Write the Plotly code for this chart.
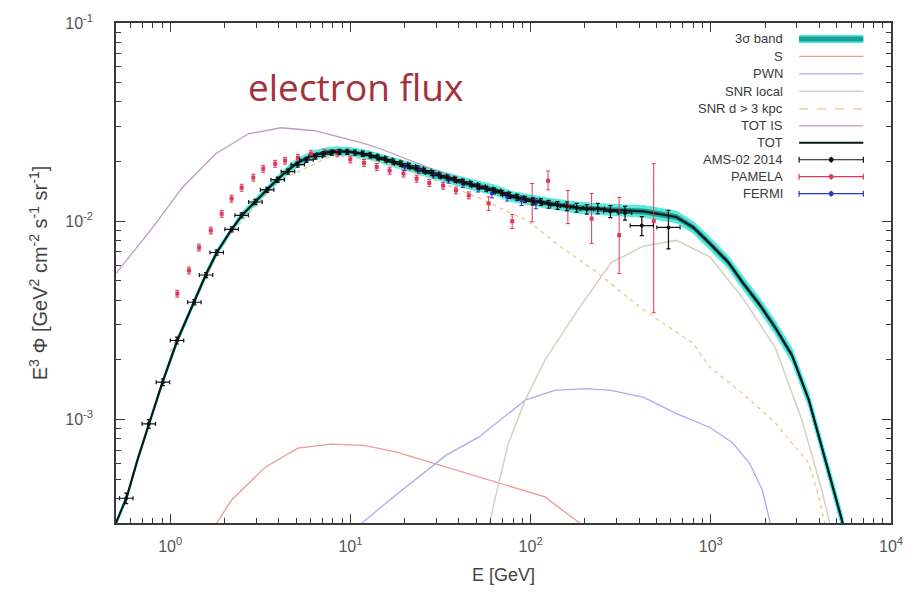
import plotly.graph_objects as go
import math

# ---------------- data ----------------
# TOT model curve and 3-sigma band
tot_E = [0.5, 0.574, 0.66, 0.759, 0.906, 1.094, 1.355, 1.578, 1.814, 2.19, 2.49, 2.97, 3.6, 4.3, 5.1,
         6.2, 7.5, 8.5, 10, 12.5, 18, 25, 34, 42, 64, 79, 120, 182, 280, 425, 644, 800, 990, 1250,
         1503, 1862, 2280, 2825, 3500, 4130, 4864, 5450]
tot_V = [3.0e-4, 4.06e-4, 6.3e-4, 9.46e-4, 1.54e-3, 2.5e-3, 3.89e-3, 5.38e-3, 6.95e-3, 9.08e-3,
         1.067e-2, 1.26e-2, 1.5e-2, 1.75e-2, 1.98e-2, 2.15e-2, 2.24e-2, 2.26e-2, 2.24e-2, 2.16e-2,
         1.96e-2, 1.8e-2, 1.66e-2, 1.57e-2, 1.43e-2, 1.33e-2, 1.24e-2, 1.17e-2, 1.14e-2, 1.12e-2,
         1.05e-2, 9.3e-3, 7.7e-3, 6.2e-3, 4.9e-3, 3.8e-3, 2.9e-3, 2.1e-3, 1.25e-3, 7.3e-4, 4.2e-4, 2.9e-4]
band_rel = [0.025, 0.025, 0.025, 0.025, 0.03, 0.03, 0.03, 0.035, 0.035, 0.035, 0.04, 0.04, 0.045, 0.045, 0.05,
            0.05, 0.05, 0.05, 0.05, 0.05, 0.055, 0.055, 0.055, 0.06, 0.06, 0.06, 0.06, 0.065, 0.065, 0.07,
            0.07, 0.07, 0.075, 0.075, 0.08, 0.08, 0.08, 0.085, 0.085, 0.09, 0.09, 0.09]

# TOT IS (interstellar, unmodulated)
totis_E = [0.5, 0.8, 1.166, 1.79, 2.72, 4.12, 6.33, 9.6, 11.9, 15, 20, 30, 45, 60]
totis_V = [5.45e-3, 9.3e-3, 1.476e-2, 2.19e-2, 2.76e-2, 2.96e-2, 2.86e-2, 2.61e-2, 2.47e-2,
           2.3e-2, 2.08e-2, 1.8e-2, 1.58e-2, 1.45e-2]

# secondaries
sec_E = [1.81, 2.19, 3.37, 5.11, 7.75, 11.9, 18.07, 27.4, 42.1, 63.8, 120, 187]
sec_V = [3.0e-4, 3.92e-4, 5.74e-4, 7.16e-4, 7.5e-4, 7.4e-4, 6.84e-4, 6.1e-4, 5.42e-4, 4.83e-4,
         4.06e-4, 3.0e-4]

# PWN
pwn_E = [11.6, 16.5, 34, 51.5, 93.3, 136, 200, 280, 425, 644, 990, 1324, 1641, 1932, 2138]
pwn_V = [3.0e-4, 3.92e-4, 6.6e-4, 8.13e-4, 1.25e-3, 1.40e-3, 1.43e-3, 1.40e-3, 1.29e-3, 1.07e-3,
         9.1e-4, 7.6e-4, 6.0e-4, 4.4e-4, 3.0e-4]

# SNR local
snrl_E = [59.3, 63.8, 75, 93.3, 120, 182, 280, 425, 644, 990, 1503, 2280, 3207, 4130, 4570]
snrl_V = [3.0e-4, 4.06e-4, 7.5e-4, 1.25e-3, 1.99e-3, 3.55e-3, 6.19e-3, 7.5e-3, 8.0e-3, 6.6e-3,
          4.1e-3, 2.3e-3, 9.9e-4, 4.4e-4, 3.0e-4]

# SNR d > 3 kpc
snrf_E = [1.0, 2.0, 4.0, 8.0, 15, 30, 50, 70, 96.9, 149, 226, 425, 798, 990, 1503, 2280, 3500, 3972, 4285]
snrf_V = [2.2e-3, 8.0e-3, 1.6e-2, 2.15e-2, 2.0e-2, 1.6e-2, 1.33e-2, 1.15e-2, 1.0e-2, 7.36e-3,
          5.64e-3, 3.55e-3, 2.42e-3, 1.83e-3, 1.35e-3, 9.6e-4, 6.0e-4, 4.06e-4, 3.0e-4]

# AMS-02 2014 electrons
ams_E = [0.57, 0.76, 0.91, 1.09, 1.36, 1.58, 1.81, 2.19, 2.49, 2.97, 3.45, 3.95, 4.5, 5.1, 5.7, 6.4,
         7.1, 7.9, 8.7, 9.6, 10.6, 11.7, 12.9, 14.2, 15.7, 17.3, 19.1, 21.1, 23.3, 25.7, 28.4, 31.3,
         34.6, 38.2, 42.2, 46.6, 51.4, 56.7, 62.6, 69.1, 76.3, 84.2, 93, 103, 114, 126, 141, 159,
         180, 205, 236, 277, 334, 414, 582]
ams_V = [4.0e-4, 9.5e-4, 1.54e-3, 2.5e-3, 3.9e-3, 5.35e-3, 6.95e-3, 9.1e-3, 1.07e-2, 1.25e-2,
         1.44e-2, 1.62e-2, 1.78e-2, 1.93e-2, 2.04e-2, 2.12e-2, 2.18e-2, 2.22e-2, 2.24e-2, 2.24e-2,
         2.22e-2, 2.19e-2, 2.15e-2, 2.1e-2, 2.05e-2, 2.0e-2, 1.95e-2, 1.9e-2, 1.85e-2, 1.8e-2,
         1.75e-2, 1.7e-2, 1.66e-2, 1.62e-2, 1.58e-2, 1.54e-2, 1.5e-2, 1.46e-2, 1.43e-2, 1.39e-2,
         1.35e-2, 1.32e-2, 1.29e-2, 1.26e-2, 1.25e-2, 1.22e-2, 1.2e-2, 1.19e-2, 1.17e-2, 1.15e-2,
         1.16e-2, 1.12e-2, 1.1e-2, 9.5e-3, 9.3e-3]
ams_yrel = [0.06, 0.05, 0.04, 0.04, 0.03, 0.03, 0.03, 0.03, 0.03, 0.03, 0.03, 0.03, 0.03, 0.03,
            0.03, 0.03, 0.03, 0.03, 0.03, 0.03, 0.03, 0.03, 0.03, 0.03, 0.03, 0.03, 0.03, 0.03,
            0.03, 0.03, 0.03, 0.03, 0.03, 0.03, 0.03, 0.03, 0.03, 0.03, 0.03, 0.03, 0.035, 0.035,
            0.035, 0.04, 0.04, 0.045, 0.045, 0.05, 0.05, 0.055, 0.06, 0.07, 0.08, 0.11, 0.22]
ams_xrel = [0.09] * 53 + [0.16, 0.16]

# PAMELA electrons
pam_E = [1.094, 1.27, 1.445, 1.68, 1.93, 2.19, 2.49, 2.89, 3.28, 3.82, 4.34, 5.11, 6.03, 7.18, 8.47,
         9.98, 11.9, 14.0, 16.5, 19.7, 23.3, 27.4, 32.7, 38.5, 45.4, 58.5, 79, 102, 125, 161, 218,
         310, 482]
pam_V = [4.31e-3, 5.64e-3, 7.36e-3, 8.97e-3, 1.09e-2, 1.30e-2, 1.476e-2, 1.66e-2, 1.84e-2, 1.95e-2,
         2.02e-2, 2.09e-2, 2.19e-2, 2.22e-2, 2.2e-2, 2.05e-2, 1.97e-2, 1.88e-2, 1.8e-2, 1.74e-2,
         1.64e-2, 1.56e-2, 1.51e-2, 1.43e-2, 1.35e-2, 1.23e-2, 1.0e-2, 1.24e-2, 1.6e-2, 1.2e-2,
         1.03e-2, 8.5e-3, 1.0e-2]
pam_up = [0.04] * 25 + [0.08, 0.08, 0.25, 0.12, 0.19, 0.34, 0.55, 0.95]
pam_dn = [0.04] * 25 + [0.08, 0.08, 0.2, 0.1, 0.19, 0.25, 0.36, 0.655]

# FERMI electrons
fer_E = [20, 24, 29, 35, 42, 51, 61, 74, 89, 107]
fer_V = [1.88e-2, 1.82e-2, 1.72e-2, 1.62e-2, 1.55e-2, 1.47e-2, 1.38e-2, 1.33e-2, 1.27e-2, 1.23e-2]
fer_rel = [0.04, 0.04, 0.04, 0.04, 0.045, 0.045, 0.05, 0.05, 0.055, 0.06]

legend_labels = ["3σ band", "S", "PWN", "SNR local", "SNR d > 3 kpc", "TOT IS", "TOT",
                 "AMS-02 2014", "PAMELA", "FERMI"]

x_tickvals = [1, 10, 100, 1000, 10000]
x_ticktext = ["10<sup>0</sup>", "10<sup>1</sup>", "10<sup>2</sup>", "10<sup>3</sup>", "10<sup>4</sup>"]
y_tickvals = [1e-3, 1e-2, 1e-1]
y_ticktext = ["10<sup>-3</sup>", "10<sup>-2</sup>", "10<sup>-1</sup>"]

# ---------------- styles ----------------
C_BAND = "#1c9f92"
C_BAND_EDGE = "#3ff0ee"
C_SEC = "#eb9a9a"
C_PWN = "#b4a8ec"
C_SNRL = "#d2d2c2"
C_SNRF = "#e6c98e"
C_TOTIS = "#bc9cbc"
C_TOT = "#0a1a18"
C_AMS = "#111111"
C_PAM = "#e0385a"
C_FER = "#2636c4"

fig = go.Figure()

band_hi = [v * (1 + r) for v, r in zip(tot_V, band_rel)]
band_lo = [v / (1 + r) for v, r in zip(tot_V, band_rel)]
band_hi2 = [v * (1 + r * 0.5) for v, r in zip(tot_V, band_rel)]
band_lo2 = [v / (1 + r * 0.5) for v, r in zip(tot_V, band_rel)]

fig.add_trace(go.Scatter(x=tot_E, y=band_hi, mode="lines", line=dict(color=C_BAND_EDGE, width=1),
                         showlegend=False, hoverinfo="skip"))
fig.add_trace(go.Scatter(x=tot_E, y=band_lo, mode="lines", line=dict(color=C_BAND_EDGE, width=1),
                         fill="tonexty", fillcolor="#62e6dc", showlegend=False, hoverinfo="skip"))
fig.add_trace(go.Scatter(x=tot_E, y=band_hi2, mode="lines", line=dict(color=C_BAND, width=0),
                         showlegend=False, hoverinfo="skip"))
fig.add_trace(go.Scatter(x=tot_E, y=band_lo2, mode="lines", line=dict(color=C_BAND, width=0),
                         fill="tonexty", fillcolor=C_BAND, showlegend=False, hoverinfo="skip"))

fig.add_trace(go.Scatter(x=sec_E, y=sec_V, mode="lines", line=dict(color=C_SEC, width=1.3), showlegend=False))
fig.add_trace(go.Scatter(x=pwn_E, y=pwn_V, mode="lines", line=dict(color=C_PWN, width=1.3), showlegend=False))
fig.add_trace(go.Scatter(x=snrl_E, y=snrl_V, mode="lines", line=dict(color=C_SNRL, width=1.5), showlegend=False))
fig.add_trace(go.Scatter(x=snrf_E, y=snrf_V, mode="lines", line=dict(color=C_SNRF, width=1.3, dash="4px,4px"),
                         showlegend=False))
fig.add_trace(go.Scatter(x=totis_E, y=totis_V, mode="lines", line=dict(color=C_TOTIS, width=1.3), showlegend=False))
fig.add_trace(go.Scatter(x=tot_E, y=tot_V, mode="lines", line=dict(color=C_TOT, width=2.2), showlegend=False))

# data points
fig.add_trace(go.Scatter(
    x=pam_E, y=pam_V, mode="markers",
    marker=dict(color=C_PAM, size=4, symbol="square"),
    error_y=dict(type="data", symmetric=False,
                 array=[v * r for v, r in zip(pam_V, pam_up)],
                 arrayminus=[v * r for v, r in zip(pam_V, pam_dn)],
                 color=C_PAM, thickness=1, width=2),
    showlegend=False))
fig.add_trace(go.Scatter(
    x=fer_E, y=fer_V, mode="markers",
    marker=dict(color=C_FER, size=4, symbol="circle"),
    error_y=dict(type="data", array=[v * r for v, r in zip(fer_V, fer_rel)], color=C_FER, thickness=1, width=2),
    showlegend=False))
fig.add_trace(go.Scatter(
    x=ams_E, y=ams_V, mode="markers",
    marker=dict(color=C_AMS, size=4, symbol="circle"),
    error_y=dict(type="data", array=[v * r for v, r in zip(ams_V, ams_yrel)], color=C_AMS, thickness=1.2, width=2),
    error_x=dict(type="data", symmetric=False,
                 array=[e * r for e, r in zip(ams_E, ams_xrel)],
                 arrayminus=[e * r / (1 + r) for e, r in zip(ams_E, ams_xrel)],
                 color=C_AMS, thickness=1.2, width=2),
    showlegend=False))

# ---------------- layout ----------------
L, R, T, B = 116, 900, 22, 523


def pxx(x):
    return (x - L) / (R - L)


def pxy(y):
    return (B - y) / (B - T)


AX = "#3a3a3a"
FONT = "Liberation Sans, Arial, sans-serif"
TICKF = dict(family=FONT, size=16, color="#555555")
common = dict(type="log", showline=True, linecolor=AX, linewidth=1.5, mirror="allticks",
              ticks="inside", ticklen=9, tickwidth=1.2, tickcolor=AX, showgrid=False, zeroline=False,
              tickfont=TICKF,
              minor=dict(ticks="inside", ticklen=5, tickwidth=1, tickcolor=AX, dtick="D1", showgrid=False))

fig.update_layout(
    width=915, height=595,
    margin=dict(l=L, r=915 - R, t=T, b=595 - B),
    paper_bgcolor="white", plot_bgcolor="white",
    showlegend=False,
    xaxis=dict(range=[math.log10(0.5), 4], tickvals=x_tickvals, ticktext=x_ticktext, ticklabelstandoff=8,
               title=dict(text="E [GeV]", font=dict(family=FONT, size=18, color="#444444"), standoff=14),
               **common),
    yaxis=dict(range=[math.log10(3e-4), -1], tickvals=y_tickvals, ticktext=y_ticktext, ticklabelstandoff=18,
               title=dict(text="E<sup>3</sup> Φ [GeV<sup>2</sup> cm<sup>-2</sup> s<sup>-1</sup> sr<sup>-1</sup>]",
                          font=dict(family=FONT, size=20, color="#444444"), standoff=12),
               **common),
)

fig.add_annotation(text="electron flux", xref="paper", yref="paper", x=pxx(358), y=pxy(86),
                   showarrow=False, font=dict(family="Open Sans, sans-serif", size=37, color="#a6303a"),
                   xanchor="center", yanchor="middle")

# ---------------- gnuplot-style key (text on left, sample on right) ----------------
rows = [38, 55.5, 73, 90.5, 108, 125, 142, 159, 176, 193]
tx = 793
lx0, lx1 = 807, 872
KEYF = dict(family=FONT, size=13, color="#3a3a3a")
for lab, ry in zip(legend_labels, rows):
    fig.add_annotation(text=lab, xref="paper", yref="paper", x=pxx(tx), y=pxy(ry), showarrow=False,
                       xanchor="right", yanchor="middle", font=KEYF)


def seg(ry, color, width, dash="solid"):
    fig.add_shape(type="line", xref="paper", yref="paper", x0=pxx(lx0), x1=pxx(lx1), y0=pxy(ry), y1=pxy(ry),
                  line=dict(color=color, width=width, dash=dash))


seg(rows[0], C_BAND_EDGE, 8)
seg(rows[0], C_BAND, 5)
seg(rows[1], C_SEC, 1.3)
seg(rows[2], C_PWN, 1.3)
seg(rows[3], C_SNRL, 1.5)
seg(rows[4], C_SNRF, 1.3, "dash")
seg(rows[5], C_TOTIS, 1.3)
seg(rows[6], C_TOT, 2)
for ry, col in zip(rows[7:], [C_AMS, C_PAM, C_FER]):
    seg(ry, col, 1.2)
    for xx in (lx0, lx1):
        fig.add_shape(type="line", xref="paper", yref="paper", x0=pxx(xx), x1=pxx(xx),
                      y0=pxy(ry - 3), y1=pxy(ry + 3), line=dict(color=col, width=1.2))
    cx = (lx0 + lx1) / 2
    fig.add_shape(type="line", xref="paper", yref="paper", x0=pxx(cx), x1=pxx(cx),
                  y0=pxy(ry - 3), y1=pxy(ry + 3), line=dict(color=col, width=1.2))
    fig.add_shape(type="circle", xref="paper", yref="paper", x0=pxx(cx - 2.5), x1=pxx(cx + 2.5),
                  y0=pxy(ry + 2.5), y1=pxy(ry - 2.5), fillcolor=col, line=dict(color=col, width=0))

fig.write_html("out.html")
